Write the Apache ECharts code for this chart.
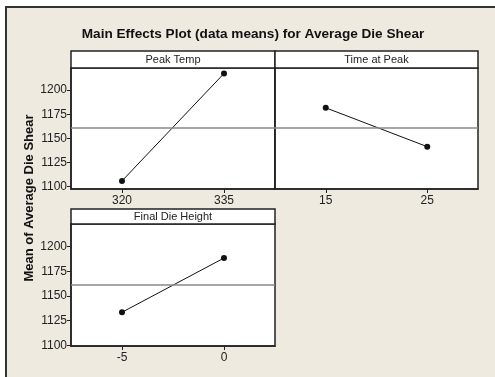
<!DOCTYPE html>
<html><head><meta charset="utf-8">
<script src="https://cdn.jsdelivr.net/npm/echarts@6/dist/echarts.min.js"></script>
<style>html,body{margin:0;padding:0;background:#fff}#c{width:495px;height:377px}</style>
</head><body><div id="c"></div>
<script>
const titleText = 'Main Effects Plot (data means) for Average Die Shear';
const yTitle = 'Mean of Average Die Shear';
const factors = ['Peak Temp', 'Time at Peak', 'Final Die Height'];
const peakTempLevels = ['320', '335'];
const peakTempMeans = [1105.9, 1217.3];
const timeAtPeakLevels = ['15', '25'];
const timeAtPeakMeans = [1181.7, 1141.4];
const finalDieHeightLevels = ['-5', '0'];
const finalDieHeightMeans = [1133.5, 1188.5];
const grandMean = 1161.3;
const yTicks = [1100, 1125, 1150, 1175, 1200];

const FONT = '"Liberation Sans", Arial, sans-serif';
const grids = [
  {left: 71, top: 68, width: 204, height: 121},
  {left: 275, top: 68, width: 203, height: 121},
  {left: 71, top: 224, width: 204, height: 122}
];
const headers = [
  {x: 71, y: 51, w: 204, h: 17},
  {x: 275, y: 51, w: 203, h: 17},
  {x: 71, y: 209, w: 204, h: 15}
];
const levels = [peakTempLevels, timeAtPeakLevels, finalDieHeightLevels];
const means = [peakTempMeans, timeAtPeakMeans, finalDieHeightMeans];
const yRanges = [[1097.5, 1223], [1097.5, 1223], [1099.3, 1223]];

const chart = echarts.init(document.getElementById('c'), null, {renderer: 'canvas'});
const graphic = [
  {type: 'rect', shape: {x: 6, y: 7, width: 500, height: 380}, style: {fill: '#EEEAE0', stroke: '#333', lineWidth: 2}, z: -10},
  {type: 'text', x: 253, y: 34, style: {text: titleText, font: 'bold 13.6px ' + FONT, fill: '#111', align: 'center', verticalAlign: 'middle'}},
  {type: 'text', x: 29, y: 198, rotation: Math.PI / 2, style: {text: yTitle, font: 'bold 13px ' + FONT, fill: '#111', align: 'center', verticalAlign: 'middle'}}
];
headers.forEach((h, i) => {
  graphic.push({type: 'rect', shape: {x: h.x, y: h.y, width: h.w, height: h.h}, style: {fill: '#fff', stroke: '#222', lineWidth: 1.5}});
  graphic.push({type: 'text', x: h.x + h.w / 2, y: h.y + h.h / 2 + 0.5, style: {text: factors[i], font: '11px ' + FONT, fill: '#222', align: 'center', verticalAlign: 'middle'}});
});

const option = {
  animation: false,
  backgroundColor: 'transparent',
  graphic: graphic,
  grid: grids.map(g => Object.assign({show: true, backgroundColor: '#fff', borderColor: '#222', borderWidth: 1.5}, g)),
  xAxis: levels.map((lv, i) => ({
    type: 'category', gridIndex: i, data: lv, boundaryGap: true,
    axisLine: {show: true, lineStyle: {color: '#222', width: 1.5}},
    axisTick: {show: true, alignWithLabel: true, length: 4, lineStyle: {color: '#222'}},
    axisLabel: {color: '#222', fontFamily: FONT, fontSize: 12, margin: 6},
    splitLine: {show: false}
  })),
  yAxis: yRanges.map((r, i) => ({
    type: 'value', gridIndex: i, min: r[0], max: r[1],
    axisLine: {show: true, lineStyle: {color: '#222', width: 1.5}},
    axisTick: {show: i !== 1, length: 4, customValues: yTicks, lineStyle: {color: '#222'}},
    axisLabel: {show: i !== 1, customValues: yTicks, formatter: v => String(v), color: '#222', fontFamily: FONT, fontSize: 12, margin: 4},
    splitLine: {show: false}
  })),
  series: means.map((m, i) => ({
    type: 'line', xAxisIndex: i, yAxisIndex: i, data: m,
    symbol: 'circle', symbolSize: 6,
    lineStyle: {color: '#111', width: 1},
    itemStyle: {color: '#111'},
    markLine: {silent: true, symbol: 'none', label: {show: false},
      lineStyle: {color: '#888', width: 1.5, type: 'solid'},
      data: [{yAxis: grandMean}]}
  }))
};
chart.setOption(option);
</script></body></html>
